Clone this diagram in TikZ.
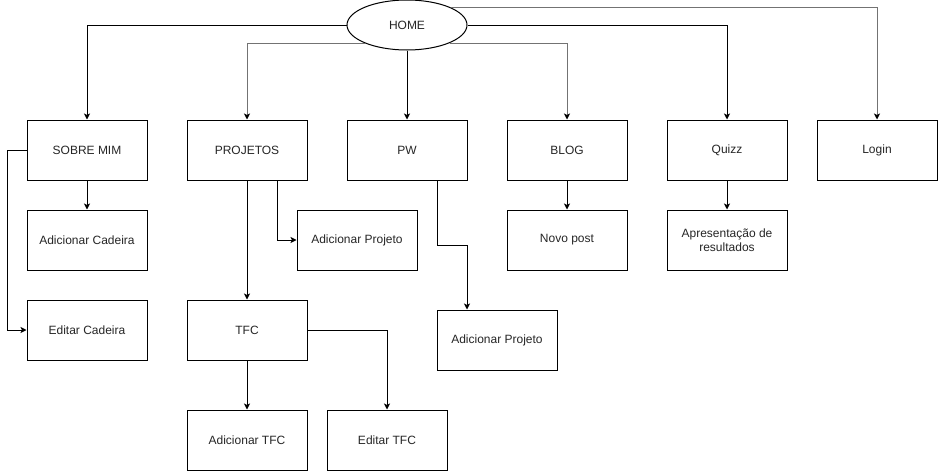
\documentclass[tikz,border=0pt]{standalone}
\usepackage{fontspec}
\setmainfont{Liberation Sans}
\usetikzlibrary{shapes.geometric,arrows.meta}
\begin{document}
\begin{tikzpicture}[x=1pt,y=-1pt,
  font=\fontsize{12}{14}\selectfont,
  box/.style={draw=black, fill=white, line width=1pt, minimum width=120pt, minimum height=60pt, inner sep=2pt, align=center, text=black!85},
  homeshape/.style={draw=black, fill=white, ellipse, line width=1pt, minimum width=120pt, minimum height=50pt, inner sep=0pt, text=black!85},
  arr/.style={draw=black, line width=1pt, -{Stealth[length=6pt,width=6pt,inset=1.5pt,color=black]}},
  garr/.style={arr, draw=black!55}]
\useasboundingbox (0,0) rectangle (938,471);
\fill[white] (0,0) rectangle (938,471);
% nodes
\node[homeshape] (home) at (407,25) {HOME};
\node[box] (sobre) at (87,150) {SOBRE MIM};
\node[box] (proj) at (247,150) {PROJETOS};
\node[box] (pw) at (407,150) {PW};
\node[box] (blog) at (567,150) {BLOG};
\node[box] (quizz) at (727,150) {Quizz};
\node[box] (login) at (877,150) {Login};
\node[box] (addcad) at (87,240) {Adicionar Cadeira};
\node[box] (editcad) at (87,330) {Editar Cadeira};
\node[box] (addproj) at (357,240) {Adicionar Projeto};
\node[box] (tfc) at (247,330) {TFC};
\node[box] (addproj2) at (497,340) {Adicionar Projeto};
\node[box] (addtfc) at (247,440) {Adicionar TFC};
\node[box] (edittfc) at (387,440) {Editar TFC};
\node[box] (novo) at (567,240) {Novo post};
\node[box] (apres) at (727,240) {Apresentação de\\resultados};
% helper coordinates
\coordinate (sl) at (7,150);
\coordinate (pj) at (277,180);
\coordinate (pwo) at (437,180);
\coordinate (pwm) at (467,245);
% connectors from HOME
\draw[arr] (home.west) -| (sobre.north);
\draw[garr] (home.-156.6) -| (proj.north);
\draw[arr] (home.south) -- (pw.north);
\draw[garr] (home.-23.4) -| (blog.north);
\draw[arr] (home.east) -| (quizz.north);
\draw[garr] (home.22.1) -| (login.north);
% sub connectors
\draw[arr] (sobre.south) -- (addcad.north);
\draw[arr] (sobre.west) -- (sl) |- (editcad.west);
\draw[arr] (proj.south) -- (tfc.north);
\draw[arr] (pj) |- (addproj.west);
\draw[arr] (pwo) |- (pwm) -- (pwm |- addproj2.north);
\draw[arr] (tfc.south) -- (addtfc.north);
\draw[arr] (tfc.east) -| (edittfc.north);
\draw[arr] (blog.south) -- (novo.north);
\draw[arr] (quizz.south) -- (apres.north);
\end{tikzpicture}
\end{document}
